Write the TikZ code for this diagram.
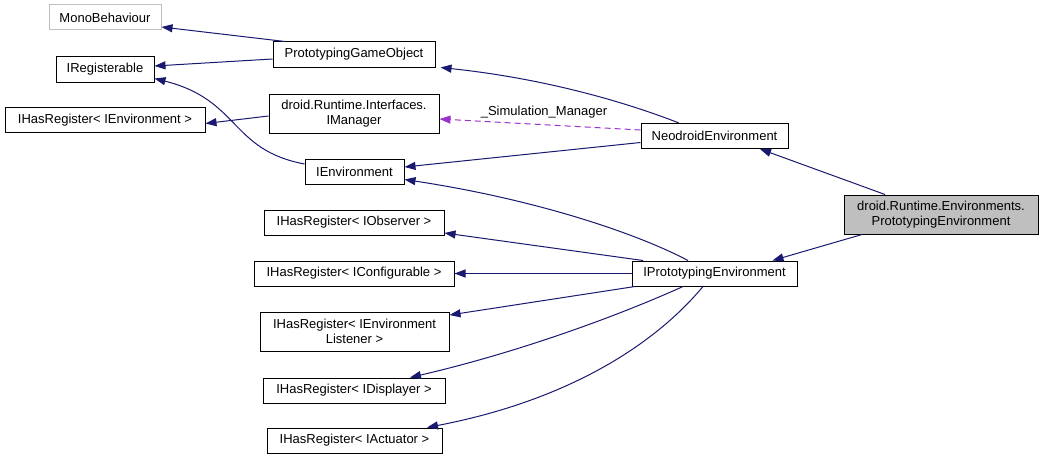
\documentclass[tikz,border=0pt]{standalone}
\usepackage{fontspec}
\setmainfont{Liberation Sans}
\usetikzlibrary{arrows.meta}
\definecolor{edgeblue}{HTML}{191970}
\definecolor{orchid}{HTML}{9A32CD}
\definecolor{lgray}{HTML}{BFBFBF}
\tikzset{
  cls/.style={draw=black, line width=1pt, fill=white, inner sep=0pt, align=center,
    font=\fontsize{13}{15}\selectfont, text=black},
  inh/.style={draw=edgeblue, line width=1pt, -{Triangle[length=11pt,width=8pt]}, fill=none},
  use/.style={draw=orchid, line width=1pt, dash pattern=on 6pt off 4pt,
    -{Triangle[length=11pt,width=8pt]}, fill=none},
  lbl/.style={font=\fontsize{13}{15}\selectfont, inner sep=0pt, text=black}
}
\begin{document}
\begin{tikzpicture}[x=1pt,y=-1pt]
\useasboundingbox[fill=white] (0,0) rectangle (1043,460);
% nodes
\node[cls, draw=lgray, minimum width=112pt, minimum height=25pt] (mono) at (105,17.5) {MonoBehaviour};
\node[cls, minimum width=162pt, minimum height=25pt] (pgo) at (354,54.5) {PrototypingGameObject};
\node[cls, minimum width=98pt, minimum height=25pt] (ireg) at (105,69.5) {IRegisterable};
\node[cls, minimum width=200pt, minimum height=25pt] (ihre) at (105,120.2) {IHasRegister< IEnvironment >};
\node[cls, minimum width=170pt, minimum height=39pt] (iman) at (354,113.5) {droid.Runtime.Interfaces.\\IManager};
\node[cls, minimum width=147pt, minimum height=25pt] (neo) at (714.5,136) {NeodroidEnvironment};
\node[cls, minimum width=99pt, minimum height=25pt] (ienv) at (354.5,171.5) {IEnvironment};
\node[cls, fill=lgray, minimum width=194pt, minimum height=39pt] (pe) at (941,214.5) {droid.Runtime.Environments.\\PrototypingEnvironment};
\node[cls, minimum width=180pt, minimum height=25pt] (iobs) at (354,222.5) {IHasRegister< IObserver >};
\node[cls, minimum width=200pt, minimum height=25pt] (iconf) at (354,273.5) {IHasRegister< IConfigurable >};
\node[cls, minimum width=165pt, minimum height=25pt] (ipe) at (714.5,273.5) {IPrototypingEnvironment};
\node[cls, minimum width=189pt, minimum height=39pt] (ilis) at (354.5,331.5) {IHasRegister< IEnvironment\\Listener >};
\node[cls, minimum width=182pt, minimum height=25pt] (idisp) at (354,390.5) {IHasRegister< IDisplayer >};
\node[cls, minimum width=175pt, minimum height=25pt] (iact) at (354.5,440.5) {IHasRegister< IActuator >};
% edges
\draw[inh] ([xshift=-69pt]pgo.north) -- ([yshift=-9.5pt]mono.east);
\draw[inh] ([yshift=-4.5pt]pgo.west) -- ([yshift=3.5pt]ireg.east);
\draw[inh] ([xshift=-35.5pt]neo.north) .. controls (620,100) and (540,78) .. ([xshift=5pt]pgo.south east);
\draw[inh] ([yshift=7.5pt]ienv.west) .. controls (230,150) and (240,100) .. ([yshift=-9pt]ireg.east);
\draw[inh] ([yshift=-2.5pt]iman.west) -- ([yshift=-3.3pt]ihre.east);
\draw[use] ([yshift=6pt]neo.west) -- node[lbl, pos=0.48, above=6pt] {\_Simulation\_Manager} ([yshift=-5.5pt]iman.east);
\draw[inh] ([yshift=-6.5pt]neo.west) -- ([yshift=4.5pt]ienv.east);
\draw[inh] ([xshift=-56pt]pe.north) -- ([xshift=45.5pt]neo.south);
\draw[inh] ([xshift=-79pt]pe.south) -- ([xshift=58pt]ipe.north);
\draw[inh] ([xshift=-26.5pt]ipe.north) .. controls (640,235) and (540,200) .. ([yshift=-8pt]ienv.east);
\draw[inh] ([xshift=-71.5pt]ipe.north) -- ([yshift=-10.5pt]iobs.east);
\draw[inh] (ipe.west) -- (iconf.east);
\draw[inh] ([xshift=-79.5pt]ipe.south) -- ([yshift=16.5pt]ilis.east);
\draw[inh] ([xshift=-31.5pt]ipe.south) .. controls (620,315) and (520,352) .. ([xshift=56pt]idisp.north);
\draw[inh] ([xshift=-11.5pt]ipe.south) .. controls (650,350) and (560,402) .. ([xshift=72.5pt]iact.north);
\end{tikzpicture}
\end{document}
